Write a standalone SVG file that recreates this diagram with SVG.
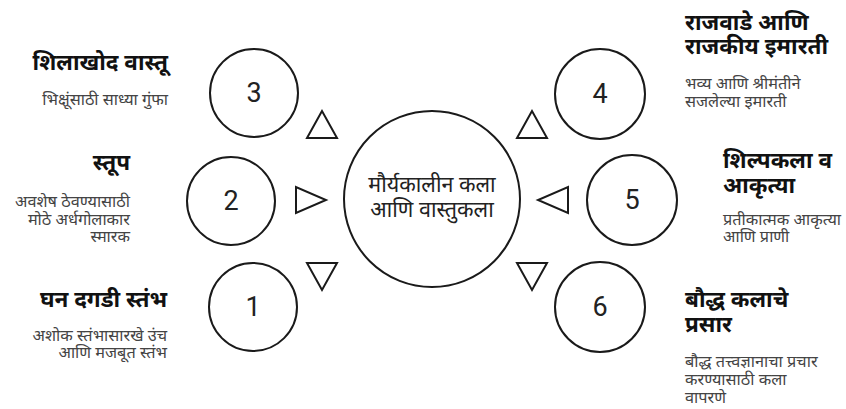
<svg xmlns="http://www.w3.org/2000/svg" width="846" height="409" viewBox="0 0 846 409">
<style>
.c{fill:none;stroke:#1a1a1a;stroke-width:2}
.t{fill:none;stroke:#1a1a1a;stroke-width:2;stroke-linejoin:miter}
.num{font-family:Roboto,"Liberation Sans",sans-serif;font-size:27px;fill:#222;text-anchor:middle}
.h{font-family:"Noto Sans Devanagari","Noto Sans",sans-serif;font-size:22.5px;font-weight:bold;fill:#111}
.d{font-family:"Noto Sans Devanagari","Noto Sans",sans-serif;font-size:16.3px;fill:#444}
.m{font-family:"Noto Sans Devanagari","Noto Sans",sans-serif;font-size:21.5px;fill:#222;text-anchor:middle}
.r{text-anchor:end}
</style>
<rect width="846" height="409" fill="#fff"/>
<g id="center">
<circle class="c" cx="432" cy="199" r="88"/>
<text class="m" x="432" y="192">मौर्यकालीन कला</text>
<text class="m" x="432" y="217">आणि वास्तुकला</text>
</g>
<g id="connectors">
<polygon class="t" points="322,111 307,138 337,138"/>
<polygon class="t" points="296,187 296,213 326,200"/>
<polygon class="t" points="307,263 337,263 322,290"/>
<polygon class="t" points="532,111 517,138 547,138"/>
<polygon class="t" points="568,187 568,213 538,200"/>
<polygon class="t" points="517,263 547,263 532,290"/>
</g>
<g id="node3">
<circle class="c" cx="254" cy="93" r="44"/>
<text class="num" x="254" y="102">3</text>
<text class="h r" x="168" y="70">शिलाखोद वास्तू</text>
<text class="d r" x="168" y="105">भिक्षूंसाठी साध्या गुंफा</text>
</g>
<g id="node2">
<circle class="c" cx="231" cy="201" r="44"/>
<text class="num" x="231" y="210">2</text>
<text class="h r" x="130" y="170">स्तूप</text>
<text class="d r" x="130" y="207">अवशेष ठेवण्यासाठी</text>
<text class="d r" x="130" y="225">मोठे अर्धगोलाकार</text>
<text class="d r" x="130" y="242">स्मारक</text>
</g>
<g id="node1">
<circle class="c" cx="253" cy="307" r="44"/>
<text class="num" x="253" y="316">1</text>
<text class="h r" x="167" y="307">घन दगडी स्तंभ</text>
<text class="d r" x="167" y="341">अशोक स्तंभासारखे उंच</text>
<text class="d r" x="167" y="358">आणि मजबूत स्तंभ</text>
</g>
<g id="node4">
<circle class="c" cx="600" cy="94" r="45"/>
<text class="num" x="600" y="103">4</text>
<text class="h" x="685" y="30">राजवाडे आणि</text>
<text class="h" x="685" y="54">राजकीय इमारती</text>
<text class="d" x="685" y="89">भव्य आणि श्रीमंतीने</text>
<text class="d" x="685" y="107">सजलेल्या इमारती</text>
</g>
<g id="node5">
<circle class="c" cx="632" cy="200" r="45"/>
<text class="num" x="632" y="209">5</text>
<text class="h" x="723" y="168">शिल्पकला व</text>
<text class="h" x="723" y="193">आकृत्या</text>
<text class="d" x="723" y="225">प्रतीकात्मक आकृत्या</text>
<text class="d" x="723" y="242">आणि प्राणी</text>
</g>
<g id="node6">
<circle class="c" cx="600" cy="307" r="45"/>
<text class="num" x="600" y="316">6</text>
<text class="h" x="685" y="307">बौद्ध कलाचे</text>
<text class="h" x="685" y="332">प्रसार</text>
<text class="d" x="685" y="367">बौद्ध तत्त्वज्ञानाचा प्रचार</text>
<text class="d" x="685" y="385">करण्यासाठी कला</text>
<text class="d" x="685" y="403">वापरणे</text>
</g>
</svg>
